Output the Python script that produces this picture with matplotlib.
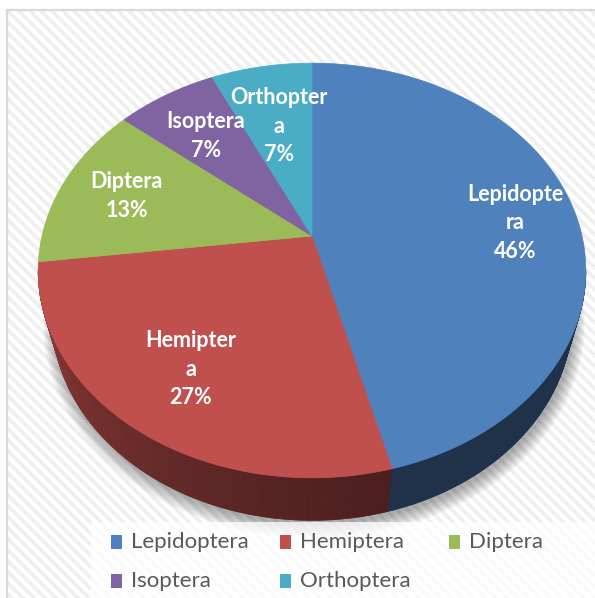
import numpy as np
import matplotlib.pyplot as plt
from matplotlib.patches import Polygon, Rectangle
from matplotlib.collections import PolyCollection, LineCollection
from matplotlib.colors import to_rgb

# data
categories = ['Lepidoptera', 'Hemiptera', 'Diptera', 'Isoptera', 'Orthoptera']
percent = [46, 27, 13, 7, 7]
slice_labels = ['Lepidopte\nra', 'Hemipter\na', 'Diptera', 'Isoptera', 'Orthopter\na']
colors = ['#4F81BD', '#C0504D', '#9BBB59', '#8064A2', '#4BACC6']

W, H = 595, 598
CX, CY = 312, 236          # pie centre on the canvas (px)
SCALE = 270                # radius in px at the centre depth
PHI = np.radians(48.3)     # elevation of the view
DIST = 4.0                 # camera distance, in pie radii
DEPTH = 0.28               # pie thickness, in pie radii
LABEL_R = [0.77, 0.72, 0.74, 0.70, 0.62]   # radial spot of each data label
LABEL_DY = [6, 0, 0, 2, 1]                 # small vertical nudges (px)
LINE_STEP = 28.5                           # px between label lines


def project(theta, r=1.0, z=0.0):
    # theta in degrees, clockwise from 12 o'clock; z < 0 goes down
    t = np.radians(theta)
    X = r * np.sin(t)
    Z = r * np.cos(t)
    v = Z * np.sin(PHI) + z * np.cos(PHI)
    w = DIST + Z * np.cos(PHI) - z * np.sin(PHI)
    sc = SCALE * DIST / w
    return CX + X * sc, CY - v * sc


def shade(theta):
    # side walls: dark at the front/right, lighter towards the left
    return 0.39 + 0.34 * np.clip((theta - 165) / 97, 0, 1) ** 1.2


fig = plt.figure(figsize=(W / 100, H / 100), dpi=100)
ax = fig.add_axes([0, 0, 1, 1])
ax.set_xlim(0, W)
ax.set_ylim(H, 0)
ax.axis('off')

# striped chart-area background
bg = Rectangle((7, 10), W, H, facecolor='white', edgecolor='none', zorder=0)
ax.add_patch(bg)
segs = [[(c, 10), (c + H, 10 + H)] for c in np.arange(-H, W, 11)]
stripes = LineCollection(segs, colors='#EFEFEF', linewidths=2.6, zorder=0.5)
ax.add_collection(stripes)
stripes.set_clip_path(bg)
ax.plot([7, 7], [10, H], color='#D9D9D9', lw=1.6, zorder=1)
ax.plot([7, W], [10, 10], color='#D9D9D9', lw=1.6, zorder=1)

# soft shadow under the pie
th = np.linspace(0, 360, 361)
bx, by = project(th, 1.0, -DEPTH)
for i in range(10):
    g = i * 1.3
    sx = CX + (bx - CX) * (1 + g / 275) + 2
    sy = CY + (by - CY) * (1 + g / 240) + 4
    ax.add_patch(Polygon(np.column_stack([sx, sy]), closed=True,
                         facecolor='black', edgecolor='none', alpha=0.035, zorder=1.5))

edges = np.concatenate([[0], np.cumsum(percent)]) / np.sum(percent) * 360
k = np.cos(PHI) / DIST
t_lo = 90 + np.degrees(np.arcsin(k))
t_hi = 360 - t_lo

# visible outer walls
quads, qcols = [], []
for i, col in enumerate(colors):
    a0, a1 = max(edges[i], t_lo), min(edges[i + 1], t_hi)
    if a1 <= a0:
        continue
    ts = np.linspace(a0, a1, int(a1 - a0) * 2 + 2)
    base = np.array(to_rgb(col))
    for t0, t1 in zip(ts[:-1], ts[1:]):
        x0, y0 = project(t0)
        x1, y1 = project(t1)
        x2, y2 = project(t1, 1.0, -DEPTH)
        x3, y3 = project(t0, 1.0, -DEPTH)
        quads.append([(x0, y0), (x1, y1), (x2, y2), (x3, y3)])
        qcols.append(base * shade((t0 + t1) / 2))
ax.add_collection(PolyCollection(quads, facecolors=qcols, edgecolors=qcols,
                                 linewidths=0.6, zorder=2))

# top faces
for i, col in enumerate(colors):
    ts = np.linspace(edges[i], edges[i + 1], int(edges[i + 1] - edges[i]) * 2 + 2)
    px, py = project(ts)
    pts = np.vstack([[project(0, 0.0)], np.column_stack([px, py])])
    ax.add_patch(Polygon(pts, closed=True, facecolor=col, edgecolor=col,
                         lw=0.5, zorder=3))

# data labels, one text per wrapped line
for i, lab in enumerate(slice_labels):
    mid = (edges[i] + edges[i + 1]) / 2
    lx, ly = project(mid, LABEL_R[i])
    lines = f'{lab}\n{percent[i]}%'.split('\n')
    for j, line in enumerate(lines):
        yy = ly + LABEL_DY[i] + (j - (len(lines) - 1) / 2) * LINE_STEP
        ax.text(lx, yy, line, ha='center', va='center', color='white',
                fontsize=15.5, fontweight='bold', family='Lato', zorder=4)

# legend
ax.add_patch(Rectangle((91, 522), W, 100, facecolor='white', edgecolor='none',
                       alpha=0.75, zorder=3))
for i, name in enumerate(categories):
    row, c = divmod(i, 3)
    x = 111 + c * 169
    y = 542 + row * 39
    ax.add_patch(Rectangle((x, y - 7), 11, 14, facecolor=colors[i],
                           edgecolor='none', zorder=4))
    ax.text(x + 20, y, name, ha='left', va='center', color='#595959',
            fontsize=16, family='Lato', zorder=4)

fig.savefig('out.png', dpi=100)
